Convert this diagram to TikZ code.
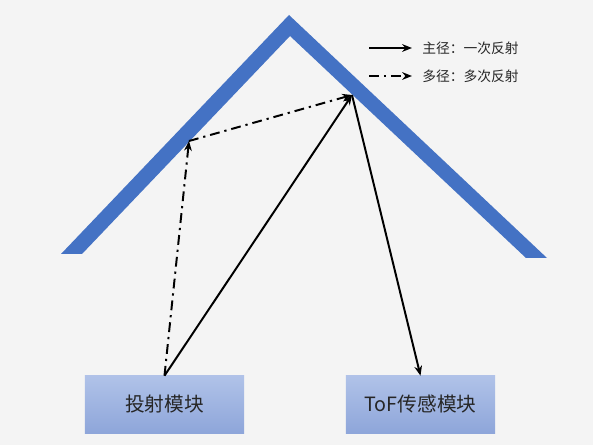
\documentclass[tikz,border=0pt]{standalone}
\usepackage{fontspec}
\newfontfamily\cjkfont{Noto Sans CJK SC}
\usetikzlibrary{arrows.meta}
\usetikzlibrary{positioning}

\definecolor{roofblue}{RGB}{68,114,196}
\definecolor{boxtop}{RGB}{176,194,232}
\definecolor{boxbot}{RGB}{142,166,218}
\definecolor{bggray}{RGB}{244,244,244}

\tikzset{
	modul/.style={minimum height=1.425cm, top color=boxtop, bottom color=boxbot, inner sep=0pt,
		text=black!85, font=\cjkfont\fontsize{14}{16}\selectfont},
	legtext/.style={anchor=west, inner sep=0pt, text=black!85, font=\cjkfont\fontsize{9.8}{11}\selectfont},
	ray/.style={line width=1.4pt, -{Stealth[length=7pt,width=5.5pt]}},
	multi/.style={ray, dash pattern=on 7pt off 3.5pt on 1.6pt off 3.5pt}
}

\begin{document}
\begin{tikzpicture}[x=0.025cm,y=-0.025cm]
		\fill[bggray] (0,0) rectangle (593,445);
		\useasboundingbox (0,0) rectangle (593,445);
		% roof
		\fill[roofblue] (61,254) -- (289,15) -- (547,258) -- (526,258) -- (290,36) -- (82,254) -- cycle;
		% modules
		\node[modul, minimum width=3.975cm] (proj) at (164.5,404.5) {投射模块};
		\node[modul, minimum width=3.725cm] (tof) at (420.5,404.5) {ToF传感模块};
		% reflection points
		\coordinate (refR) at (352,95);
		\coordinate (refL) at (189,141);
		% rays
		\draw[ray] (proj.north) -- (refR);
		\draw[ray] (refR) -- (tof.north);
		\draw[multi] (proj.north) -- (refL);
		\draw[multi] (refL) -- (refR);
		% legend
		\coordinate (leg1) at (369,48);
		\coordinate (leg2) at (369,76);
		\node[legtext] (main) at (422,48) {主径：一次反射};
		\node[legtext] (mult) at (422,76) {多径：多次反射};
		\draw[ray] (leg1) -- ++(43,0);
		\draw[multi] (leg2) -- ++(43,0);
	\end{tikzpicture}
\end{document}
